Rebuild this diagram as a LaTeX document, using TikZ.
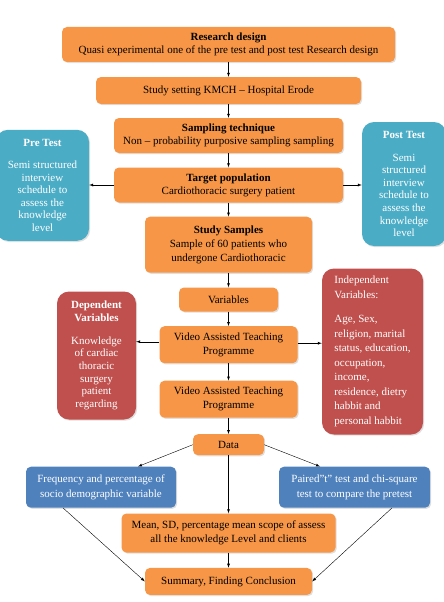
\documentclass[tikz,border=0pt]{standalone}
\usepackage{fontspec}
\setmainfont{Liberation Serif}
\usetikzlibrary{shadows}
\definecolor{boxorange}{HTML}{F79646}
\definecolor{boxteal}{HTML}{4BACC6}
\definecolor{boxred}{HTML}{C0504D}
\definecolor{boxblue}{HTML}{4F81BD}

\begin{document}
\begin{tikzpicture}[x=1pt,y=-1pt,
	box/.style={fill=boxorange,rounded corners=5pt,inner sep=0pt,align=center,font=\fontsize{11}{13}\selectfont,drop shadow={shadow xshift=1.2pt,shadow yshift=-1.2pt,opacity=0.25}},
	side/.style={box,text=white,rounded corners=12pt},
	arr/.style={-latex,thin}]
	\useasboundingbox (0,0) rectangle (444,602);
	\node[box,minimum width=333pt,minimum height=35pt] (rd) at (228.5,44.5) {\textbf{Research design}\\Quasi experimental one of the pre test and post test Research design};
	\node[box,minimum width=265pt,minimum height=27pt] (ss) at (228.5,90.5) {Study setting KMCH -- Hospital Erode};
	\node[box,minimum width=229pt,minimum height=35pt] (st) at (228.5,135.5) {\textbf{Sampling technique}\\Non -- probability purposive sampling sampling};
	\node[box,minimum width=229pt,minimum height=35pt] (tp) at (228.5,185) {\textbf{Target population}\\Cardiothoracic surgery patient};
	\node[box,minimum width=167pt,minimum height=56pt,font=\fontsize{11}{14}\selectfont] (sa) at (228.5,244.7) {\textbf{Study Samples}\\Sample of 60 patients who\\undergone Cardiothoracic};
	\node[side,fill=boxteal,minimum width=93pt,minimum height=111pt,font=\fontsize{11}{12.5}\selectfont] (pre) at (42.5,185.3) {\textbf{Pre Test}\\[10pt]Semi structured\\interview\\schedule to\\assess the\\knowledge\\level};
	\node[side,fill=boxteal,minimum width=84pt,minimum height=124pt,font=\fontsize{11}{12.6}\selectfont] (post) at (404,184) {\textbf{Post Test}\\[10pt]Semi\\structured\\interview\\schedule to\\assess the\\knowledge\\level};
	\node[box,minimum width=99pt,minimum height=24pt] (var) at (228.5,299.5) {Variables};
	\node[box,minimum width=138pt,minimum height=37pt,font=\fontsize{11}{14.3}\selectfont] (vat1) at (228.5,344.7) {Video Assisted Teaching\\Programme};
	\node[box,minimum width=138pt,minimum height=37pt,font=\fontsize{11}{14.3}\selectfont] (vat2) at (228.5,399.2) {Video Assisted Teaching\\Programme};
	\node[side,fill=boxred,minimum width=79pt,minimum height=128pt,font=\fontsize{11}{12.7}\selectfont] (dep) at (96.5,355.5) {\textbf{Dependent}\\\textbf{Variables}\\[10pt]Knowledge\\of cardiac\\thoracic\\surgery\\patient\\regarding};
	\node[side,fill=boxred,minimum width=101pt,minimum height=166pt,align=left,font=\fontsize{11}{14.5}\selectfont] (ind) at (372.5,351.5) {Independent\\Variables:\\[10pt]Age, Sex,\\religion, marital\\status, education,\\occupation,\\income,\\residence, dietry\\habbit and\\personal habbit};
	\node[box,minimum width=71pt,minimum height=21pt] (data) at (228.5,444.7) {Data};
	\node[box,fill=boxblue,text=white,minimum width=150pt,minimum height=41pt,font=\fontsize{11}{14.3}\selectfont] (freq) at (101,487.2) {Frequency and percentage of\\socio demographic variable};
	\node[box,fill=boxblue,text=white,minimum width=151pt,minimum height=41pt,font=\fontsize{11}{14.3}\selectfont] (pair) at (354.5,487.2) {Paired''t'' test and chi-square\\test to compare the pretest};
	\node[box,minimum width=214pt,minimum height=39pt,font=\fontsize{11}{14}\selectfont] (mean) at (228.5,533) {Mean, SD, percentage mean scope of assess\\all the knowledge Level and clients};
	\node[box,minimum width=167pt,minimum height=27pt] (sum) at (228.5,581.4) {Summary, Finding Conclusion};
	% main column
	\foreach \a/\b in {rd/ss,ss/st,st/tp,tp/sa,sa/var,var/vat1,vat1/vat2,vat2/data,data/mean,mean/sum} \draw[arr] (\a.south) -- (\b.north);
	% side arrows
	\draw[arr] (tp.west) -- (tp.west -| pre.east);
	\draw[arr] (tp.east) -- (tp.east -| post.west);
	\draw[arr] ([yshift=3pt]vat1.west) -- ([yshift=3pt]vat1.west -| dep.east);
	\draw[arr] ([yshift=1.5pt]vat1.east) -- ([yshift=1.5pt]vat1.east -| ind.west);
	\draw[arr] (data.west) -- ([xshift=37pt]freq.north);
	\draw[arr] (data.east) -- ([xshift=-34.5pt]pair.north);
	\draw[arr] ([xshift=-38pt]freq.south) -- (sum.west);
	\draw[arr] ([xshift=37.5pt]pair.south) -- (sum.east);
\end{tikzpicture}
\end{document}
